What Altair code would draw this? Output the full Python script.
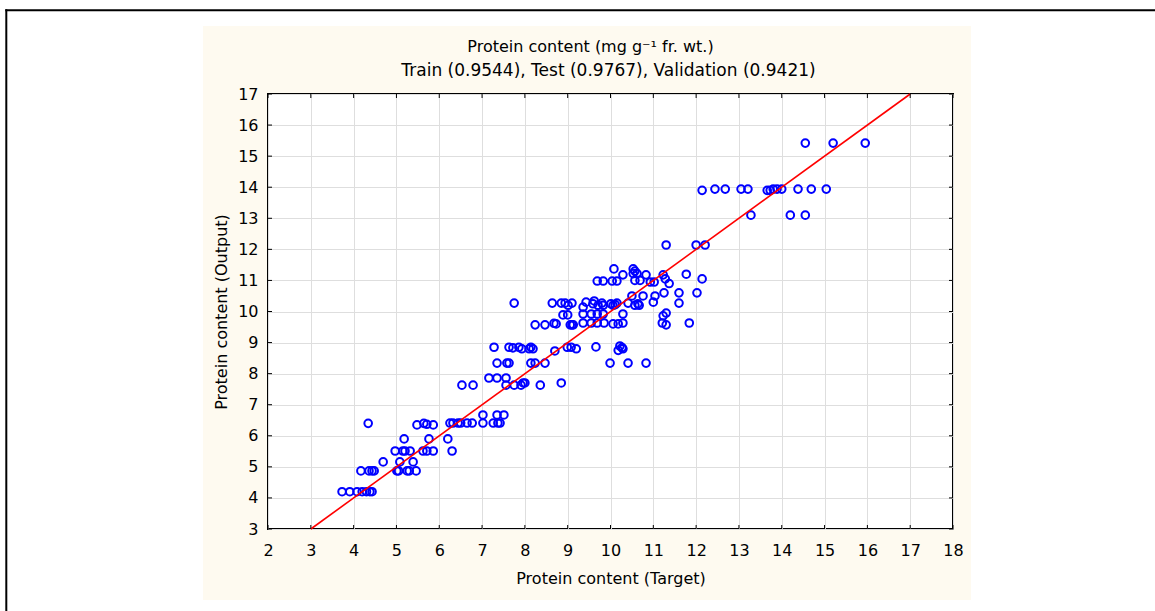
import altair as alt
import pandas as pd

# ---- data ----
target = [
    3.73, 3.91, 4.08, 4.20, 4.30, 4.38, 4.43,
    4.17, 4.36, 4.43, 4.48, 5.01, 5.05, 5.25, 5.30, 5.46,
    4.69, 5.08, 5.39,
    4.97, 5.15, 5.20, 5.32, 5.62, 5.71, 5.86, 6.30,
    5.18, 5.76, 6.20,
    4.34, 5.48, 5.64, 5.71, 5.86, 6.25, 6.32, 6.44, 6.50, 6.65, 6.77, 7.02, 7.26, 7.37, 7.42,
    7.02, 7.35, 7.51,
    6.53, 6.79, 7.56, 7.75, 7.91, 7.96, 8.00, 8.36, 8.85,
    7.16, 7.35, 7.56,
    7.35, 7.58, 7.63, 8.14, 8.24, 8.47, 9.99, 10.41, 10.83,
    7.28, 7.63, 7.72, 7.86, 7.93, 8.10, 8.14, 8.19, 8.70, 8.99, 9.08, 9.20, 9.66, 10.18, 10.22, 10.27, 10.29,
    8.24, 8.47, 8.68, 8.73, 9.06, 9.10, 9.13, 9.36, 9.55, 9.69, 9.85, 10.06, 10.18, 10.29, 11.21, 11.30, 11.84,
    8.89, 9.00, 9.36, 9.55, 9.69, 9.83, 10.29, 11.23, 11.30,
    7.75, 8.64, 8.85, 8.94, 9.01, 9.10, 9.36, 9.43, 9.59, 9.62, 9.71, 9.80, 9.83, 10.01, 10.06, 10.11, 10.15, 10.41, 10.57, 10.64, 10.67, 11.00, 11.60,
    10.50, 10.76, 11.04,
    11.25, 11.60, 12.02,
    9.69, 9.83, 10.04, 10.15, 10.57, 10.69, 10.93, 11.02, 11.28, 11.37, 12.14,
    10.29, 10.53, 10.62, 10.83, 11.23, 11.77,
    10.08, 10.53, 10.57,
    11.30, 12.00, 12.21,
    13.28, 14.20, 14.55,
    12.14, 12.44, 12.68, 13.05, 13.21, 13.66, 13.73, 13.80, 13.89, 14.00, 14.38, 14.69, 15.04,
    14.55, 15.20, 15.95,
]
output = [
    4.20, 4.20, 4.20, 4.20, 4.20, 4.20, 4.20,
    4.87, 4.87, 4.87, 4.87, 4.87, 4.87, 4.87, 4.87, 4.87,
    5.16, 5.16, 5.16,
    5.51, 5.51, 5.51, 5.51, 5.51, 5.51, 5.51, 5.51,
    5.90, 5.90, 5.90,
    6.40, 6.35, 6.40, 6.37, 6.35, 6.41, 6.41, 6.41, 6.41, 6.41, 6.41, 6.41, 6.41, 6.41, 6.41,
    6.67, 6.67, 6.67,
    7.63, 7.63, 7.63, 7.63, 7.63, 7.70, 7.70, 7.63, 7.70,
    7.86, 7.86, 7.86,
    8.34, 8.34, 8.34, 8.34, 8.34, 8.34, 8.34, 8.34, 8.34,
    8.85, 8.85, 8.83, 8.85, 8.80, 8.80, 8.85, 8.80, 8.73, 8.85, 8.85, 8.80, 8.86, 8.75, 8.89, 8.84, 8.80,
    9.57, 9.57, 9.62, 9.60, 9.57, 9.57, 9.57, 9.63, 9.63, 9.63, 9.63, 9.60, 9.60, 9.63, 9.63, 9.57, 9.63,
    9.89, 9.89, 9.92, 9.92, 9.92, 9.92, 9.92, 9.86, 9.95,
    10.27, 10.27, 10.27, 10.27, 10.20, 10.27, 10.14, 10.30, 10.25, 10.34, 10.20, 10.27, 10.20, 10.25, 10.20, 10.22, 10.27, 10.27, 10.20, 10.25, 10.20, 10.30, 10.27,
    10.50, 10.50, 10.50,
    10.60, 10.60, 10.60,
    10.98, 10.98, 10.98, 10.98, 11.00, 11.00, 10.95, 10.95, 11.05, 10.90, 11.05,
    11.18, 11.22, 11.22, 11.18, 11.18, 11.20,
    11.37, 11.37, 11.30,
    12.14, 12.14, 12.14,
    13.10, 13.10, 13.10,
    13.90, 13.94, 13.94, 13.94, 13.94, 13.90, 13.90, 13.94, 13.94, 13.94, 13.94, 13.94, 13.94,
    15.42, 15.42, 15.42,
]
x_ticks = list(range(2, 19))
y_ticks = list(range(3, 18))
fit_x = [3, 17]
fit_y = [3, 17]

title_lines = ["Protein content (mg g\u207b\u00b9 fr. wt.)",
               "Train (0.9544), Test (0.9767), Validation (0.9421)"]
x_title = "Protein content (Target)"
y_title = "Protein content (Output)"

# ---- layout ----
W, H = 685, 435
PAD_L, PAD_T, PAD_R, PAD_B = 268, 94, 202, 82
FONT = "DejaVu Sans"
CREAM = "#FEFAF0"

pts = pd.DataFrame({"target": target, "output": output})
fit = pd.DataFrame({"target": fit_x, "output": fit_y})
xt = pd.DataFrame({"target": x_ticks})
yt = pd.DataFrame({"output": y_ticks})
one = alt.Data(values=[{"a": 1}])

xscale = alt.Scale(domain=[2, 18], nice=False, zero=False)
yscale = alt.Scale(domain=[3, 17], nice=False, zero=False)

xaxis = alt.Axis(values=x_ticks, title=x_title, grid=True, ticks=False, tickSize=0,
                 domain=False, labelPadding=13, titlePadding=12, labelOverlap=False,
                 labelFlush=False)
yaxis = alt.Axis(values=y_ticks, title=y_title, grid=True, ticks=False, tickSize=0,
                 domain=False, labelPadding=10, titlePadding=8, labelOverlap=False,
                 labelFlush=False)

X = lambda: alt.X("target:Q", scale=xscale, axis=xaxis, title=x_title)
Y = lambda: alt.Y("output:Q", scale=yscale, axis=yaxis, title=y_title)

points = alt.Chart(pts).mark_point(filled=False, color="#0000FF", opacity=1, size=58,
                                   strokeWidth=2).encode(x=X(), y=Y())

line = alt.Chart(fit).mark_line(color="#FF0000", strokeWidth=1.6).encode(x=X(), y=Y())

def rect(x1, x2, y1, y2, color):
    return alt.Chart(one).mark_rect(color=color).encode(
        x=alt.value(x1), x2=alt.value(x2), y=alt.value(y1), y2=alt.value(y2))

# white margins outside the cream panel (relative to plot origin)
margins = [
    rect(-PAD_L, -65, -PAD_T, H + PAD_B, "white"),
    rect(703, W + PAD_R, -PAD_T, H + PAD_B, "white"),
    rect(-65, 703, -PAD_T, -68, "white"),
    rect(-65, 703, 506, H + PAD_B, "white"),
    # outer frame lines
    rect(-262.7, -260.7, -84.7, H + PAD_B, "black"),
    rect(-262.7, W + PAD_R, -84.7, -82.7, "black"),
]

titles = [
    alt.Chart(one).mark_text(font=FONT, fontSize=fs, color="black", align="center",
                             baseline="middle").encode(
        x=alt.value(cx), y=alt.value(dy), text=alt.value(t))
    for t, dy, cx, fs in zip(title_lines, [-47, -23], [W / 2 - 20, W / 2 - 2], [16, 17])
]

tick_bot = alt.Chart(xt).mark_rule(color="black", strokeWidth=1).encode(
    x=X(), y=alt.value(H), y2=alt.value(H - 4))
tick_top = alt.Chart(xt).mark_rule(color="black", strokeWidth=1).encode(
    x=X(), y=alt.value(0), y2=alt.value(4))
tick_left = alt.Chart(yt).mark_rule(color="black", strokeWidth=1).encode(
    y=Y(), x=alt.value(0), x2=alt.value(4))
tick_right = alt.Chart(yt).mark_rule(color="black", strokeWidth=1).encode(
    y=Y(), x=alt.value(W), x2=alt.value(W - 4))

chart = alt.layer(
    *margins, *titles, points, line, tick_bot, tick_top, tick_left, tick_right
).properties(
    width=W, height=H,
    autosize=alt.AutoSizeParams(type="none"),
    padding={"left": PAD_L, "top": PAD_T, "right": PAD_R, "bottom": PAD_B},
    background=CREAM,
).configure_view(
    fill="white", stroke="black", strokeWidth=2
).configure_axis(
    labelFont=FONT, labelFontSize=16, labelColor="black", labelOverlap=False,
    titleFont=FONT, titleFontSize=16, titleFontWeight="normal", titleColor="black",
    gridColor="#DEDEDE", gridWidth=1,
)

chart.save("out.html", embed_options={"renderer": "svg", "actions": False})
